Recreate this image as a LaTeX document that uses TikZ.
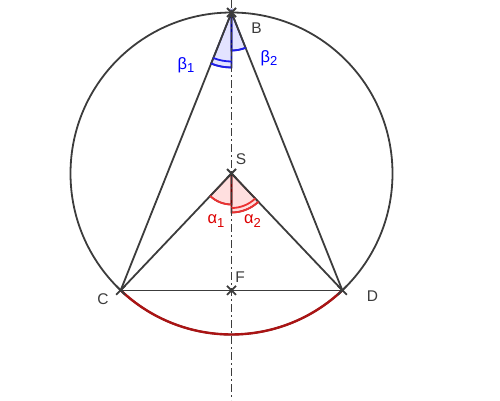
\documentclass[tikz,border=0pt]{standalone}
\usepackage{fontspec}
\setmainfont{Liberation Sans}
\usetikzlibrary{calc}
\definecolor{linegray}{RGB}{60,60,60}
\definecolor{arcred}{RGB}{170,20,20}
\definecolor{angred}{RGB}{235,50,50}
\definecolor{angblue}{RGB}{30,30,235}
\definecolor{txtblue}{RGB}{0,0,255}
\definecolor{txtred}{RGB}{220,0,0}
\newcommand\crossat[1]{\draw[crossline] ([shift={(-4.5,-4.5)}]#1) -- ([shift={(4.5,4.5)}]#1) ([shift={(-4.5,4.5)}]#1) -- ([shift={(4.5,-4.5)}]#1);}
\newcommand\subs[1]{\raisebox{-0.45ex}{\fontsize{13}{13}\selectfont #1}}
\tikzset{
  mainline/.style={draw=linegray, line width=1.8pt},
  thinline/.style={draw=linegray, line width=1.2pt},
  crossline/.style={draw=linegray, line width=1.8pt},
  axisline/.style={draw=linegray, line width=1.4pt, dash pattern=on 8pt off 3pt on 2pt off 3pt},
  bluesector/.style={fill=blue!60, fill opacity=0.18, draw=blue!50!black, line width=1.6pt, draw opacity=0.9},
  redsector/.style={fill=red!70, fill opacity=0.18, draw=red!40!black, line width=1.6pt, draw opacity=0.9},
  bluearc/.style={draw=angblue, line width=1.8pt},
  redarc/.style={draw=angred, line width=1.8pt},
  lbl/.style={font=\fontsize{15.5}{17}\selectfont, text=linegray, inner sep=0pt},
  blbl/.style={font=\fontsize{16.5}{17}\selectfont, text=txtblue, inner sep=0pt},
  rlbl/.style={font=\fontsize{16.5}{17}\selectfont, text=txtred, inner sep=0pt}
}
\begin{document}
\begin{tikzpicture}[x=1pt,y=1pt]
\useasboundingbox (0,0) rectangle (500,400);
\def\R{161}
\coordinate (S) at (231.5,226.5);
\coordinate (B) at ($(S)+(90:\R)$);
\coordinate (C) at ($(S)+(226.5:\R)$);
\coordinate (D) at ($(S)+(313.5:\R)$);
\coordinate (F) at (C -| S);
\coordinate (top) at (231.5,400);
\coordinate (bot) at (231.5,0);
% angle sectors
\path[bluesector] (B) -- ([shift={(248.25:55)}]B) arc[start angle=248.25, end angle=270, radius=55] -- cycle;
\path[bluesector] (B) -- ([shift={(270:38)}]B) arc[start angle=270, end angle=291.75, radius=38] -- cycle;
\path[redsector] (S) -- ([shift={(226.5:31)}]S) arc[start angle=226.5, end angle=270, radius=31] -- cycle;
\path[redsector] (S) -- ([shift={(270:39)}]S) arc[start angle=270, end angle=313.5, radius=39] -- cycle;
% circle
\draw[mainline] (S) circle[radius=\R];
\draw[arcred, line width=2.4pt] (C) arc[start angle=226.5, end angle=313.5, radius=\R];
% lines
\draw[mainline] (C) -- (B) -- (D);
\draw[mainline] (C) -- (S) -- (D);
\draw[thinline] (C) -- (D);
% arcs
\draw[bluearc] ([shift={(248.25:55)}]B) arc[start angle=248.25, end angle=270, radius=55];
\draw[bluearc] ([shift={(248.25:49)}]B) arc[start angle=248.25, end angle=270, radius=49];
\draw[bluearc] ([shift={(270:38)}]B) arc[start angle=270, end angle=291.75, radius=38];
\draw[redarc] ([shift={(226.5:31)}]S) arc[start angle=226.5, end angle=270, radius=31];
\draw[redarc] ([shift={(270:39)}]S) arc[start angle=270, end angle=313.5, radius=39];
\draw[redarc] ([shift={(270:34.5)}]S) arc[start angle=270, end angle=313.5, radius=34.5];
% axis
\draw[axisline] (top) -- (bot);
% crosses
\crossat{B}
\crossat{S}
\crossat{F}
\crossat{C}
\crossat{D}
% labels
\node[lbl] (lB) at (256.5,372) {B};
\node[lbl] (lS) at (241,240.5) {S};
\node[lbl] (lF) at (240,122.5) {F};
\node[lbl] (lC) at (103,101) {C};
\node[lbl] (lD) at (372.5,104) {D};
\node[blbl] (b1) at (186,335) {β\subs{1}};
\node[blbl] (b2) at (269,342) {β\subs{2}};
\node[rlbl] (a1) at (216,178.5) {α\subs{1}};
\node[rlbl] (a2) at (252.5,178.5) {α\subs{2}};
\end{tikzpicture}
\end{document}
